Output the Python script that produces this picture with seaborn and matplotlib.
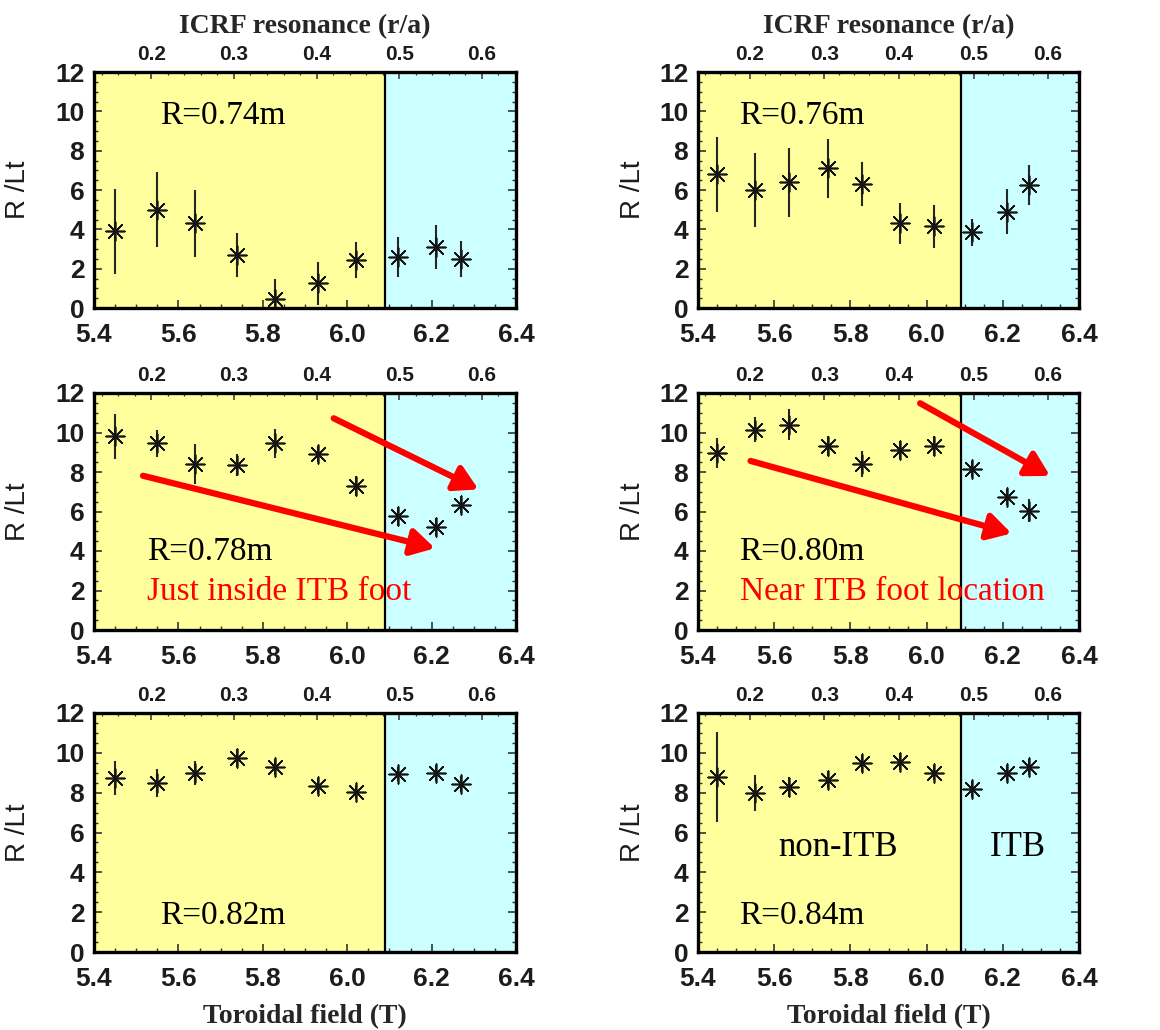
import numpy as np
import pandas as pd
import matplotlib
matplotlib.use("Agg")
import matplotlib.pyplot as plt
from matplotlib.ticker import MultipleLocator, FixedLocator
import seaborn as sns

# Toroidal field of each discharge (T)
field = [5.45, 5.55, 5.64, 5.74, 5.83, 5.93, 6.02, 6.12, 6.21, 6.27]

# Normalised temperature gradient R/Lt and its uncertainty at each major radius
rlt_074 = [3.9, 5.0, 4.3, 2.7, 0.45, 1.25, 2.45, 2.6, 3.1, 2.5]
err_074 = [2.15, 1.9, 1.7, 1.1, 1.05, 1.1, 0.9, 1.0, 1.1, 0.9]
rlt_076 = [6.8, 6.0, 6.4, 7.1, 6.3, 4.3, 4.15, 3.85, 4.9, 6.25]
err_076 = [1.9, 1.9, 1.75, 1.5, 1.1, 1.05, 1.1, 0.7, 1.15, 1.0]
rlt_078 = [9.8, 9.45, 8.4, 8.35, 9.45, 8.9, 7.3, 5.75, 5.2, 6.35]
err_078 = [1.15, 0.7, 1.0, 0.55, 0.75, 0.4, 0.5, 0.5, 0.45, 0.45]
rlt_080 = [8.95, 10.15, 10.4, 9.3, 8.4, 9.1, 9.3, 8.15, 6.75, 6.05]
err_080 = [0.75, 0.65, 0.8, 0.5, 0.65, 0.45, 0.5, 0.4, 0.4, 0.6]
rlt_082 = [8.75, 8.5, 9.0, 9.75, 9.3, 8.35, 8.05, 8.95, 9.0, 8.45]
err_082 = [0.85, 0.7, 0.6, 0.45, 0.4, 0.4, 0.35, 0.35, 0.4, 0.4]
rlt_084 = [8.8, 8.0, 8.3, 8.65, 9.47, 9.55, 9.0, 8.17, 9.0, 9.3]
err_084 = [2.25, 0.9, 0.5, 0.42, 0.42, 0.42, 0.38, 0.4, 0.4, 0.4]

radius_labels = ["R=0.74m", "R=0.76m", "R=0.78m", "R=0.80m", "R=0.82m", "R=0.84m"]
series = [rlt_074, rlt_076, rlt_078, rlt_080, rlt_082, rlt_084]
errors = [err_074, err_076, err_078, err_080, err_082, err_084]

# Field above which an ITB forms
itb_threshold = 6.09

# ICRF resonance position (r/a) ticks on the top axis
ra_ticks = [0.2, 0.3, 0.4, 0.5, 0.6]
ra_ref_field = 5.536     # field where resonance sits at r/a = 0.2
ra_field_per_unit = 1.957

x_ticks = [5.4, 5.6, 5.8, 6.0, 6.2, 6.4]
y_ticks = [0, 2, 4, 6, 8, 10, 12]

# Trend arrows (start, end) for the R=0.78m and R=0.80m panels
arrows_078 = [((5.516, 7.81), (6.208, 4.14)), ((5.968, 10.72), (6.311, 7.12))]
arrows_080 = [((5.538, 8.56), (6.223, 4.89)), ((5.983, 11.48), (6.324, 7.80))]

YELLOW = "#FFFF9E"
CYAN = "#CCFFFF"
INK = "#151515"

sns.set_theme(style="ticks")
plt.rcParams["font.family"] = ["Liberation Sans", "DejaVu Sans"]
SERIF = ["Liberation Serif", "DejaVu Serif"]


def field_to_ra(b):
    return 0.2 + (np.asarray(b) - ra_ref_field) / ra_field_per_unit


def ra_to_field(r):
    return ra_ref_field + (np.asarray(r) - 0.2) * ra_field_per_unit


fig = plt.figure(figsize=(11.6, 10.3), dpi=100)

col_geom = [(94 / 1160, 422 / 1160), (698 / 1160, 381 / 1160)]
row_geom = [(1 - 308 / 1030, 236 / 1030), (1 - 630 / 1030, 237 / 1030), (1 - 952 / 1030, 239 / 1030)]
ylabel_x = [-0.15, -0.137]

axes = []
for i in range(6):
    row, col = divmod(i, 2)
    x0, w = col_geom[col]
    y0, h = row_geom[row]
    ax = fig.add_axes([x0, y0, w, h])
    axes.append(ax)

    ax.axvspan(5.4, itb_threshold, color=YELLOW, zorder=0, lw=0)
    ax.axvspan(itb_threshold, 6.4, color=CYAN, zorder=0, lw=0)
    ax.axvline(itb_threshold, color="black", lw=1.6, zorder=1)

    df = pd.DataFrame({"field": field, "rlt": series[i], "err": errors[i]})
    ax.errorbar(df["field"], df["rlt"], yerr=df["err"], fmt="none",
                ecolor="#262626", elinewidth=1.5, capsize=0, zorder=2)
    sns.scatterplot(data=df, x="field", y="rlt", marker=(8, 2, 0), s=180,
                    color=INK, linewidth=1.2, legend=False, ax=ax, zorder=3)

    ax.set_xlim(5.4, 6.4)
    ax.set_ylim(0, 12)
    ax.xaxis.set_major_locator(FixedLocator(x_ticks))
    ax.xaxis.set_minor_locator(MultipleLocator(0.05))
    ax.yaxis.set_major_locator(FixedLocator(y_ticks))
    ax.yaxis.set_minor_locator(MultipleLocator(0.5))
    ax.set_xticklabels([f"{v:.1f}" for v in x_ticks])
    ax.set_yticklabels([str(v) for v in y_ticks])
    ax.tick_params(which="both", direction="in", top=False, right=True, left=True,
                   bottom=True, color="#333333")
    ax.tick_params(which="major", length=6, width=1.2, labelsize=19,
                   labelcolor="#1c1c1c")
    ax.tick_params(axis="x", which="major", pad=11)
    ax.tick_params(axis="y", which="major", pad=7)
    ax.tick_params(which="minor", length=3, width=1.0)
    for lab in ax.get_xticklabels() + ax.get_yticklabels():
        lab.set_fontweight("bold")
    for sp in ax.spines.values():
        sp.set_linewidth(2.4)
        sp.set_color("black")
        sp.set_zorder(5)

    ax.set_ylabel("R /Lt", fontsize=20, color="#1c1c1c")
    ax.yaxis.set_label_coords(ylabel_x[col], 0.5)
    if row == 2:
        ax.set_xlabel("Toroidal field (T)", family=SERIF, fontweight="bold",
                      fontsize=20, labelpad=9)
    else:
        ax.set_xlabel("")

    sec = ax.secondary_xaxis("top", functions=(field_to_ra, ra_to_field))
    sec.xaxis.set_major_locator(FixedLocator(ra_ticks))
    sec.xaxis.set_minor_locator(MultipleLocator(0.02))
    sec.set_xticklabels([f"{v:.1f}" for v in ra_ticks])
    sec.tick_params(which="both", direction="in", color="#333333")
    sec.tick_params(which="major", length=5, width=1.1, labelsize=15, pad=6,
                    labelcolor="#1c1c1c")
    sec.tick_params(which="minor", length=2.5, width=0.9)
    for lab in sec.get_xticklabels():
        lab.set_fontweight("bold")
    sec.spines["top"].set_visible(False)
    if row == 0:
        sec.set_xlabel("ICRF resonance (r/a)", family=SERIF, fontweight="bold",
                       fontsize=20, labelpad=8)

# Radius labels and annotations
text_pos = [(5.557, 9.35), (5.508, 9.35), (5.525, 3.54), (5.508, 3.54), (5.557, 1.41), (5.508, 1.41)]
for ax, lab, (tx, ty) in zip(axes, radius_labels, text_pos):
    ax.text(tx, ty, lab, family=SERIF, fontsize=24, color="black", zorder=4)

axes[2].text(5.525, 1.5, "Just inside ITB foot", family=SERIF, fontsize=24,
             color="#FF0000", zorder=4)
axes[3].text(5.51, 1.5, "Near ITB foot location", family=SERIF, fontsize=24,
             color="#FF0000", zorder=4)
axes[5].text(5.611, 4.82, "non-ITB", family=SERIF, fontsize=25, color="black", zorder=4)
axes[5].text(6.165, 4.82, "ITB", family=SERIF, fontsize=25, color="black", zorder=4)

for ax, arrs in ((axes[2], arrows_078), (axes[3], arrows_080)):
    for start, end in arrs:
        ax.annotate("", xy=end, xytext=start,
                    arrowprops=dict(arrowstyle="-|>,head_length=0.7,head_width=0.4",
                                    color="#FF0000", lw=4.5, mutation_scale=20,
                                    shrinkA=0, shrinkB=0),
                    zorder=4)

fig.savefig("out.png", dpi=100)
